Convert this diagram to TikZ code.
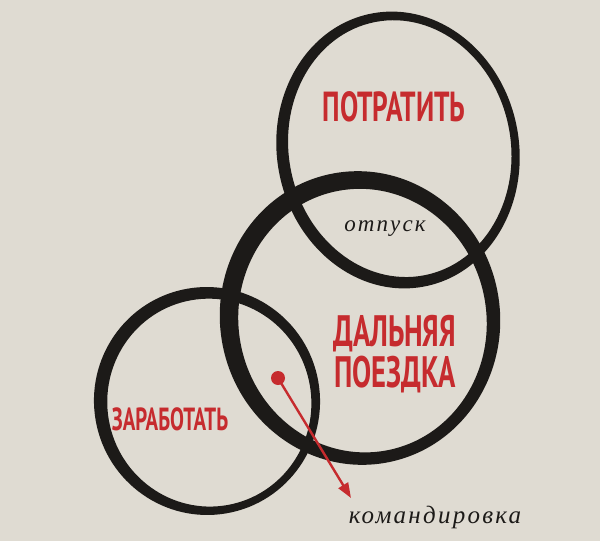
\documentclass[tikz,border=0pt]{standalone}
\usepackage{fontspec}
\usetikzlibrary{arrows.meta, positioning}
\newfontfamily\headfont[FakeStretch=0.65]{PT Sans}
\newfontfamily\notefont[LetterSpace=9]{Liberation Serif}
\definecolor{paper}{HTML}{DFDBD2}
\definecolor{ink}{HTML}{1C1A18}
\definecolor{signal}{HTML}{C62B2E}
\tikzset{
        x=1pt, y=1pt, % one unit is one pixel of the reference
        brush/.style={fill=ink, even odd rule}, % ring between two ellipses
        head/.style={text=signal, font=\headfont\bfseries\fontsize{42}{41}\selectfont, align=center, inner sep=0pt},
        note/.style={text=ink, font=\notefont\itshape\fontsize{23}{23}\selectfont, inner sep=0pt},
        pointer/.style={draw=signal, line width=2.4pt, -{Triangle[length=15pt,width=11pt]}},
    }
\begin{document}
\begin{tikzpicture}
    \fill[paper] (0,0) rectangle (600,-541);
    \useasboundingbox (0,0) rectangle (600,-541);
    % rings
    \fill[brush, rotate around={11:(398,-150)}] (398,-150) ellipse (121 and 139) (400,-149) ellipse (111 and 129);
    \fill[brush, rotate around={10:(360,-318)}] (360,-318) ellipse (140 and 147) (362,-321) ellipse (124 and 132);
    \fill[brush, rotate around={10:(207,-401)}] (207,-401) ellipse (113 and 114) (209,-403) ellipse (102 and 104);
    % labels
    \node[head] (spend) at (394,-107) {ПОТРАТИТЬ};
    \node[head, font=\headfont\bfseries\fontsize{44}{41}\selectfont] (trip) at (395,-354) {ДАЛЬНЯЯ\\ПОЕЗДКА};
    \node[head, font=\headfont\bfseries\fontsize{32}{32}\selectfont] (earn) at (170,-419) {ЗАРАБОТАТЬ};
    \node[note] (leave) at (385,-229) {отпуск};
    \node[note, font=\notefont\itshape\fontsize{25}{25}\selectfont] (business) at (435,-517) {командировка};
    % pointer
    \node[circle, fill=signal, inner sep=0pt, minimum size=14pt] (dot) at (278,-378) {};
    \coordinate (tip) at (351,-498);
    \draw[pointer] (dot.center) -- (tip);
\end{tikzpicture}
\end{document}
